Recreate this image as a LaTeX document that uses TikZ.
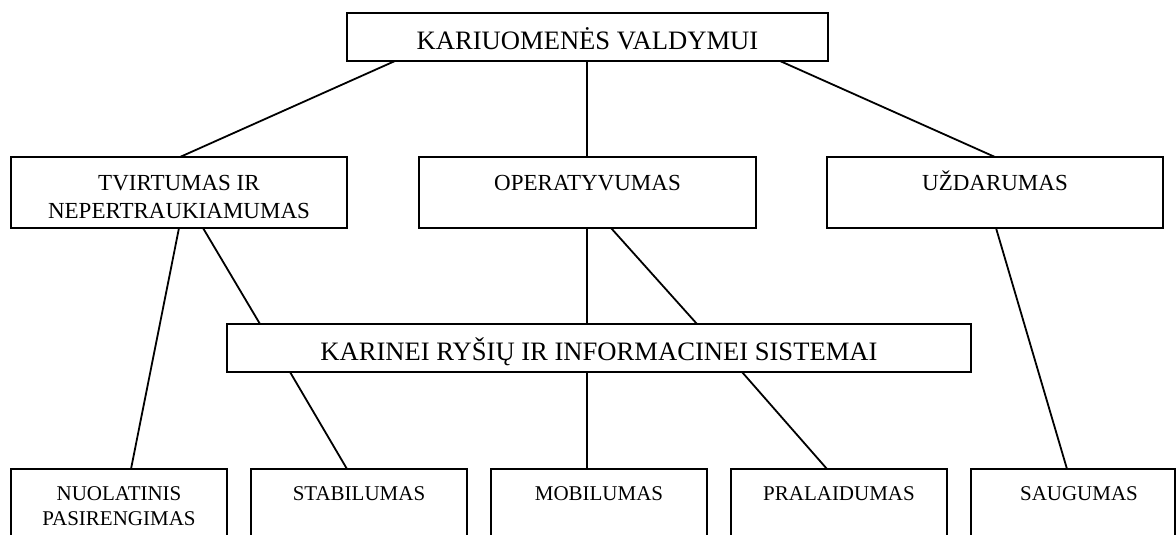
\documentclass[tikz,border=0pt]{standalone}
\usepackage{fontspec}
\setmainfont{Liberation Serif}
\usetikzlibrary{calc}
\begin{document}
\begin{tikzpicture}[x=1pt,y=-1pt,
  box/.style={draw, line width=1.8pt, inner sep=0pt, outer sep=0pt, anchor=north west},
  link/.style={line width=1.8pt},
  lvlA/.style={font=\fontsize{26.6}{32}\selectfont},
  lvlB/.style={font=\fontsize{23}{28}\selectfont, minimum width=336pt, text height=33pt, text depth=38pt},
  lvlC/.style={font=\fontsize{21}{25}\selectfont, minimum width=216pt, text height=31pt, text depth=80pt}
]
\useasboundingbox (0,0) rectangle (1176,535);
\clip (0,0) rectangle (1176,535);

% top level
\node[box, lvlA, minimum width=481pt, text height=37pt, text depth=11pt] (top) at (347,13) {KARIUOMENĖS VALDYMUI};

% second level
\node[box, lvlB] (tv) at (11,157) {\begin{tabular}[t]{@{}c@{}}TVIRTUMAS IR\\NEPERTRAUKIAMUMAS\end{tabular}};
\node[box, lvlB, minimum width=337pt] (op) at (419,157) {OPERATYVUMAS};
\node[box, lvlB] (uz) at (827,157) {UŽDARUMAS};

% central system
\node[box, lvlA, minimum width=744pt, text height=36pt, text depth=12pt] (sys) at (227,324) {KARINEI RYŠIŲ IR INFORMACINEI SISTEMAI};

% bottom level
\node[box, lvlC] (nuo) at (11,469) {\begin{tabular}[t]{@{}c@{}}NUOLATINIS\\PASIRENGIMAS\end{tabular}};
\node[box, lvlC] (stab) at (251,469) {STABILUMAS};
\node[box, lvlC] (mob) at (491,469) {MOBILUMAS};
\node[box, lvlC] (pral) at (731,469) {PRALAIDUMAS};
\node[box, lvlC, minimum width=204pt] (saug) at (971,469) {\hspace*{12pt}SAUGUMAS};

% connectors
\draw[link] ($(top.south west)+(48,0)$) -- ($(tv.north west)+(169,0)$);
\draw[link] ($(top.south west)+(240,0)$) -- ($(op.north west)+(168,0)$);
\draw[link] ($(top.south west)+(433,0)$) -- ($(uz.north west)+(168,0)$);

\draw[link] ($(tv.south west)+(168,0)$) -- ($(nuo.north west)+(120,0)$);
\draw[link] ($(tv.south west)+(192,0)$) -- ($(sys.north west)+(33,0)$);
\draw[link] ($(op.south west)+(168,0)$) -- ($(sys.north west)+(360,0)$);
\draw[link] ($(op.south west)+(192,0)$) -- ($(sys.north west)+(470,0)$);
\draw[link] ($(uz.south west)+(169,0)$) -- ($(saug.north west)+(96,0)$);

\draw[link] ($(sys.south west)+(63,0)$) -- ($(stab.north west)+(96,0)$);
\draw[link] ($(sys.south west)+(360,0)$) -- ($(mob.north west)+(96,0)$);
\draw[link] ($(sys.south west)+(515,0)$) -- ($(pral.north west)+(96,0)$);
\end{tikzpicture}
\end{document}
